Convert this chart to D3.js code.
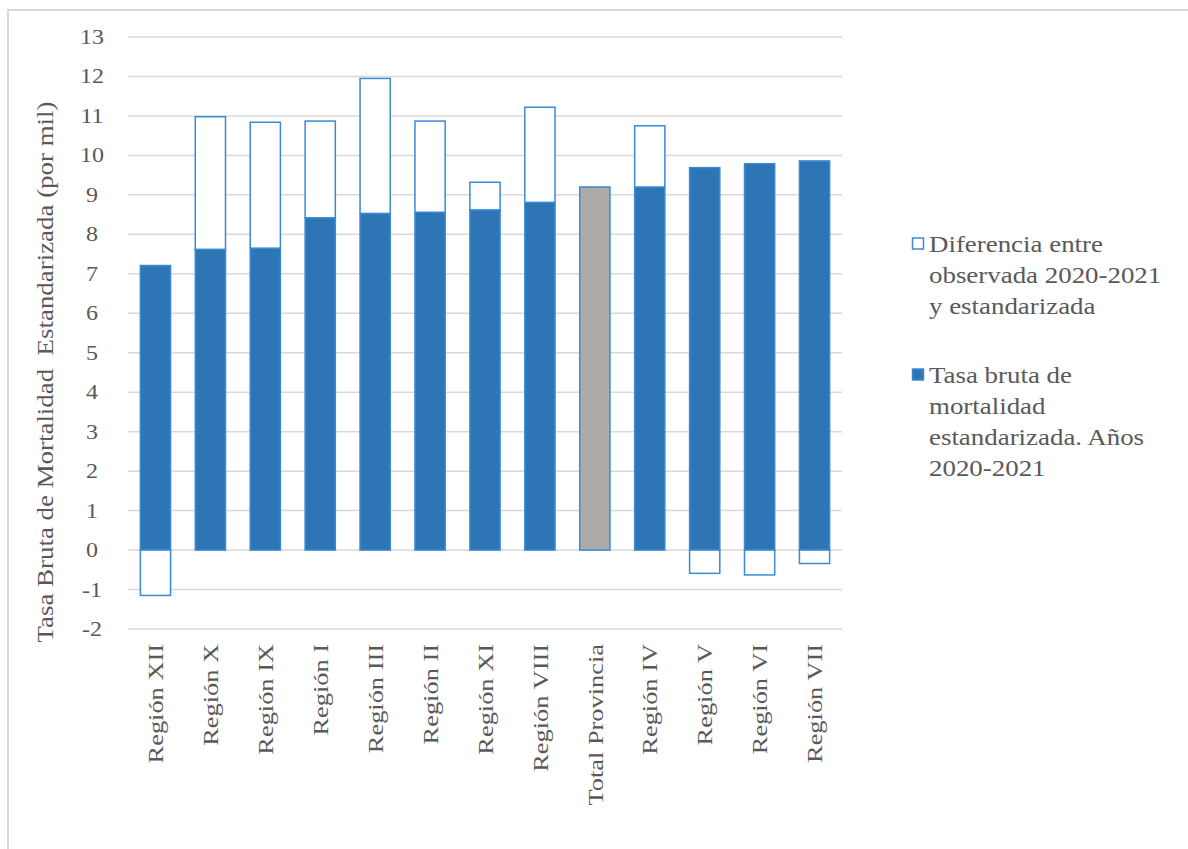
<!DOCTYPE html>
<html>
<head>
<meta charset="utf-8">
<script src="https://cdn.jsdelivr.net/npm/d3@7"></script>
<style>
  html, body { margin: 0; padding: 0; background: #fff; }
  svg { display: block; }
  text { font-family: "Liberation Serif", "Times New Roman", serif; fill: #595959; white-space: pre; }
</style>
</head>
<body>
<svg id="chart" width="1188" height="849"></svg>
<script>
const categories = ["Región XII", "Región X", "Región IX", "Región I", "Región III", "Región II", "Región XI", "Región VIII", "Total Provincia", "Región IV", "Región V", "Región VI", "Región VII"];
const tasaEstandarizada = [7.21, 7.62, 7.65, 8.42, 8.53, 8.56, 8.62, 8.81, 9.20, 9.20, 9.69, 9.79, 9.86];
const diferencia = [-1.15, 3.36, 3.19, 2.45, 3.42, 2.31, 0.70, 2.41, 0.00, 1.55, -0.59, -0.63, -0.34];
const yTicks = [-2, -1, 0, 1, 2, 3, 4, 5, 6, 7, 8, 9, 10, 11, 12, 13];
const legendLines = [
  ["Diferencia entre", "observada 2020-2021", "y estandarizada"],
  ["Tasa bruta de", "mortalidad", "estandarizada. Años", "2020-2021"]
];
const yTitle = "Tasa Bruta de Mortalidad  Estandarizada (por mil)";
const highlightCategory = "Total Provincia";

const svg = d3.select("#chart");
const W = 1188, H = 849;
const plot = { left: 128, right: 842, top: 37, bottom: 629 };
const blue = "#2E75B6", edge = "#3A8AD6", gray = "#ADAAA8", grid = "#D9D9D9";
const stretch = 1.2;

// outer frame
svg.append("rect").attr("x", 8).attr("y", 10).attr("width", W + 20).attr("height", H + 20)
  .attr("fill", "none").attr("stroke", grid).attr("stroke-width", 2);

const x = d3.scaleBand().domain(categories).range([plot.left, plot.right]).paddingInner(0.45).paddingOuter(0.225);
const y = d3.scaleLinear().domain([-2, 13]).range([plot.bottom, plot.top]);

// gridlines
svg.append("g").selectAll("line").data(yTicks).join("line")
  .attr("x1", plot.left).attr("x2", plot.right)
  .attr("y1", d => y(d)).attr("y2", d => y(d))
  .attr("stroke", grid).attr("stroke-width", 1.5);

// y tick labels
svg.append("g").selectAll("text").data(yTicks).join("text")
  .attr("transform", d => `translate(92,${y(d)}) scale(${stretch},1)`)
  .attr("text-anchor", "middle").attr("dy", "0.35em")
  .style("font-size", "20px")
  .text(d => d);

// data table & stack
const table = categories.map((c, i) => ({ cat: c, tasa: tasaEstandarizada[i], dif: diferencia[i] }));
const stack = d3.stack().keys(["tasa", "dif"]).offset(d3.stackOffsetDiverging);
const stacked = stack(table);

const gBars = svg.append("g");
stacked.forEach(series => {
  gBars.append("g").selectAll("rect").data(series).join("rect")
    .attr("x", d => x(d.data.cat))
    .attr("width", x.bandwidth())
    .attr("y", d => y(Math.max(d[0], d[1])))
    .attr("height", d => Math.abs(y(d[0]) - y(d[1])))
    .attr("fill", d => series.key === "dif" ? "#ffffff" : (d.data.cat === highlightCategory ? gray : blue))
    .attr("stroke", edge)
    .attr("stroke-width", d => Math.abs(d[1] - d[0]) > 0 ? 1.5 : 0);
});

// category labels
svg.append("g").selectAll("text").data(categories).join("text")
  .attr("transform", d => `translate(${x(d) + x.bandwidth() / 2},644) rotate(-90) scale(${stretch},1)`)
  .attr("text-anchor", "end").attr("dy", "0.35em")
  .style("font-size", "22px")
  .text(d => d);

// y axis title
svg.append("text")
  .attr("transform", `translate(45,372) rotate(-90) scale(1.17,1)`)
  .attr("text-anchor", "middle").attr("dy", "0.35em")
  .style("font-size", "23px")
  .text(yTitle);

// legend
const legend = svg.append("g");
const legendTop = [252, 383];
const legendSwatch = [{ fill: "#ffffff" }, { fill: blue }];
legendLines.forEach((lines, k) => {
  legend.append("rect")
    .attr("x", 912.5).attr("y", legendTop[k] - 14)
    .attr("width", 11).attr("height", 11)
    .attr("fill", legendSwatch[k].fill).attr("stroke", edge).attr("stroke-width", 1.5);
  lines.forEach((ln, j) => {
    legend.append("text")
      .attr("transform", `translate(929,${legendTop[k] + j * 31}) scale(1.17,1)`)
      .style("font-size", "23px")
      .text(ln);
  });
});
</script>
</body>
</html>
